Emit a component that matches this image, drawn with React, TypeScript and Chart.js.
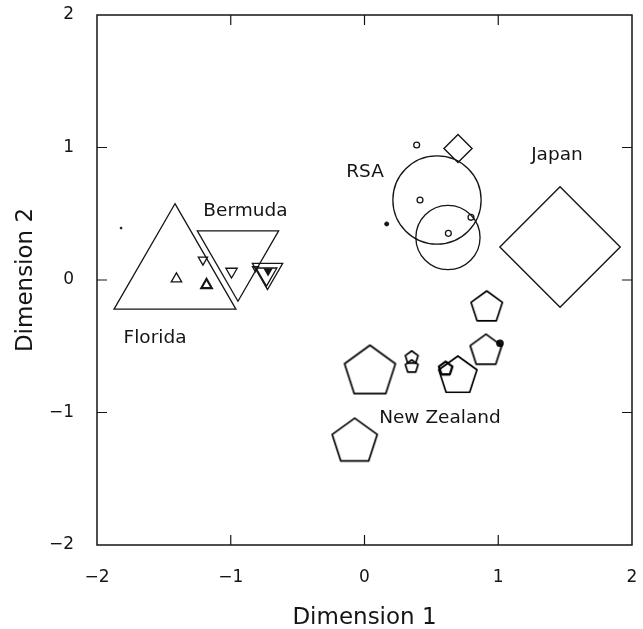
import React, { useEffect, useRef } from 'react';
import { Chart, registerables } from 'chart.js';
Chart.register(...registerables);

// ---- data ----
const axisTicks = [-2, -1, 0, 1, 2];

// Florida (upward triangles): centre and marker size in axis units
const floridaX = [-1.417, -1.406, -1.181];
const floridaY = [0.045, 0.008, -0.038];
const floridaSize = [0.526, 0.045, 0.045];

// Bermuda (downward triangles)
const bermudaX = [-0.946, -1.208, -0.994, -0.725, -0.733, -0.815, -0.721];
const bermudaY = [0.194, 0.153, 0.064, 0.06, 0.045, 0.088, 0.068];
const bermudaSize = [0.351, 0.04, 0.049, 0.131, 0.09, 0.026, 0.026];

// RSA (circles)
const rsaX = [0.542, 0.624, 0.39, 0.415, 0.627, 0.796];
const rsaY = [0.604, 0.321, 1.019, 0.604, 0.352, 0.473];
const rsaSize = [0.33, 0.24, 0.022, 0.022, 0.022, 0.022];

// Japan (diamonds)
const japanX = [0.699, 1.462];
const japanY = [0.992, 0.249];
const japanSize = [0.105, 0.45];

// New Zealand (pentagons)
const nzX = [0.914, 0.908, 0.041, 0.353, 0.353, 0.698, 0.607, -0.073];
const nzY = [-0.207, -0.534, -0.694, -0.586, -0.654, -0.725, -0.669, -1.221];
const nzSize = [0.123, 0.124, 0.2, 0.05, 0.05, 0.15, 0.053, 0.177];

// small unlabeled dots
const dotX = [0.166, 1.013, -1.82];
const dotY = [0.423, -0.478, 0.392];
const dotSize = [0.015, 0.022, 0.007];

// group labels
const groupNames = ['Bermuda', 'Florida', 'RSA', 'Japan', 'New Zealand'];
const groupLabelX = [-0.89, -1.566, 0.004, 1.439, 0.564];
const groupLabelY = [0.52, -0.438, 0.815, 0.94, -1.042];

// ---- styles ----
const INK = '#151515';
const FONT = '"DejaVu Sans", sans-serif';
const boldFlorida = [2];
const boldBermuda = [6];
const filledBermuda = [6];
const boldNZ = [6];
const boldDots = [1];

const pts = (xs: number[], ys: number[]) => xs.map((x, i) => ({ x, y: ys[i] }));

const unitPx = (chart: any, v: number) => {
  const s = chart.scales && chart.scales.x;
  if (!s || !s.width) return v * 133.75;
  return Math.abs(s.getPixelForValue(v) - s.getPixelForValue(0));
};

const radiusFrom = (sizes: number[]) => (ctx: any) => unitPx(ctx.chart, sizes[ctx.dataIndex] ?? 0);
const widthFrom = (bold: number[], normal: number, heavy: number) => (ctx: any) =>
  bold.includes(ctx.dataIndex) ? heavy : normal;

const pentCache = new Map<string, HTMLCanvasElement>();
function pentagon(R: number, lw: number): HTMLCanvasElement {
  const key = R.toFixed(2) + '_' + lw;
  const hit = pentCache.get(key);
  if (hit) return hit;
  const pad = lw + 2;
  const size = Math.ceil(2 * (R + pad));
  const c = document.createElement('canvas');
  c.width = size;
  c.height = size;
  const g = c.getContext('2d')!;
  g.strokeStyle = '#000';
  g.lineWidth = lw;
  g.lineJoin = 'round';
  g.beginPath();
  for (let k = 0; k < 5; k++) {
    const a = -Math.PI / 2 + (k * 2 * Math.PI) / 5;
    const px = size / 2 + R * Math.cos(a);
    const py = size / 2 + R * Math.sin(a);
    if (k === 0) g.moveTo(px, py);
    else g.lineTo(px, py);
  }
  g.closePath();
  g.stroke();
  pentCache.set(key, c);
  return c;
}

const framePlugin = {
  id: 'frame',
  afterDraw(chart: any) {
    const { ctx, chartArea: a, scales } = chart;
    ctx.save();
    ctx.strokeStyle = INK;
    ctx.lineWidth = 1.5;
    ctx.strokeRect(a.left, a.top, a.right - a.left, a.bottom - a.top);
    const len = 10;
    ctx.lineWidth = 1.2;
    ctx.beginPath();
    axisTicks.slice(1, -1).forEach((t) => {
      const px = scales.x.getPixelForValue(t);
      ctx.moveTo(px, a.bottom);
      ctx.lineTo(px, a.bottom - len);
      ctx.moveTo(px, a.top);
      ctx.lineTo(px, a.top + len);
      const py = scales.y.getPixelForValue(t);
      ctx.moveTo(a.left, py);
      ctx.lineTo(a.left + len, py);
      ctx.moveTo(a.right, py);
      ctx.lineTo(a.right - len, py);
    });
    ctx.stroke();
    ctx.restore();
  },
};

const labelPlugin = {
  id: 'groupLabels',
  afterDatasetsDraw(chart: any) {
    const { ctx, scales } = chart;
    ctx.save();
    ctx.fillStyle = INK;
    ctx.font = '18.5px ' + FONT;
    ctx.textAlign = 'center';
    ctx.textBaseline = 'middle';
    groupNames.forEach((t, i) => {
      ctx.fillText(t, scales.x.getPixelForValue(groupLabelX[i]), scales.y.getPixelForValue(groupLabelY[i]));
    });
    ctx.restore();
  },
};

const tickFmt = (v: any) => {
  const n = Number(v);
  return n < 0 ? '\u2212' + Math.abs(n) : String(n);
};

export default function App() {
  const ref = useRef<HTMLCanvasElement | null>(null);
  useEffect(() => {
    if (!ref.current) return;
    const common = {
      pointBorderColor: INK,
      pointBackgroundColor: 'rgba(0,0,0,0)',
      showLine: false,
    };
    const chart = new Chart(ref.current, {
      type: 'scatter',
      data: {
        datasets: [
          {
            ...common,
            label: 'Florida',
            data: pts(floridaX, floridaY),
            pointStyle: 'triangle',
            pointRadius: radiusFrom(floridaSize),
            pointHoverRadius: radiusFrom(floridaSize),
            pointBorderWidth: widthFrom(boldFlorida, 1.3, 2.2),
          },
          {
            ...common,
            label: 'Bermuda',
            data: pts(bermudaX, bermudaY),
            pointStyle: 'triangle',
            rotation: 180,
            pointRadius: radiusFrom(bermudaSize),
            pointHoverRadius: radiusFrom(bermudaSize),
            pointBorderWidth: widthFrom(boldBermuda, 1.3, 2),
            pointBackgroundColor: (ctx: any) => (filledBermuda.includes(ctx.dataIndex) ? INK : 'rgba(0,0,0,0)'),
          },
          {
            ...common,
            label: 'RSA',
            data: pts(rsaX, rsaY),
            pointStyle: 'circle',
            pointRadius: radiusFrom(rsaSize),
            pointHoverRadius: radiusFrom(rsaSize),
            pointBorderWidth: 1.3,
          },
          {
            ...common,
            label: 'Japan',
            data: pts(japanX, japanY),
            pointStyle: 'rectRot',
            pointRadius: radiusFrom(japanSize),
            pointHoverRadius: radiusFrom(japanSize),
            pointBorderWidth: 1.4,
          },
          {
            ...common,
            label: 'New Zealand',
            data: pts(nzX, nzY),
            pointStyle: (ctx: any) =>
              pentagon(unitPx(ctx.chart, nzSize[ctx.dataIndex] ?? 0), boldNZ.includes(ctx.dataIndex) ? 2.3 : 1.7),
            pointRadius: radiusFrom(nzSize),
            pointHoverRadius: radiusFrom(nzSize),
          },
          {
            ...common,
            label: 'dots',
            data: pts(dotX, dotY),
            pointStyle: 'circle',
            pointRadius: radiusFrom(dotSize),
            pointHoverRadius: radiusFrom(dotSize),
            pointBorderWidth: widthFrom(boldDots, 1, 1.8),
            pointBackgroundColor: INK,
          },
        ] as any,
      },
      options: {
        animation: false,
        responsive: false,
        events: [],
        layout: { autoPadding: false, padding: { top: 15, right: 11, left: 0, bottom: 0 } },
        plugins: { legend: { display: false }, tooltip: { enabled: false } },
        scales: {
          x: {
            type: 'linear',
            min: -2,
            max: 2,
            afterBuildTicks: (s: any) => {
              s.ticks = axisTicks.map((v) => ({ value: v }));
            },
            afterFit: (s: any) => {
              s.height = 84;
              s.paddingLeft = 0;
              s.paddingRight = 0;
            },
            grid: { display: false },
            border: { display: false },
            ticks: { padding: 14, color: INK, font: { family: FONT, size: 17 }, callback: tickFmt, maxRotation: 0, autoSkip: false },
            title: { display: true, text: 'Dimension 1', color: INK, font: { family: FONT, size: 23 }, padding: { top: 0, bottom: -3 } },
          },
          y: {
            type: 'linear',
            min: -2,
            max: 2,
            afterBuildTicks: (s: any) => {
              s.ticks = axisTicks.map((v) => ({ value: v }));
            },
            afterFit: (s: any) => {
              s.width = 97;
              s.paddingTop = 0;
              s.paddingBottom = 0;
            },
            grid: { display: false },
            border: { display: false },
            ticks: { padding: 15, color: INK, font: { family: FONT, size: 17 }, callback: tickFmt, autoSkip: false },
            title: { display: true, text: 'Dimension 2', color: INK, font: { family: FONT, size: 23 }, padding: { top: 12, bottom: 0 } },
          },
        },
      } as any,
      plugins: [framePlugin, labelPlugin],
    });
    return () => chart.destroy();
  }, []);
  return (
    <div style={{ position: 'absolute', left: 0, top: 0, width: 643, height: 629, background: '#fff' }}>
      <canvas ref={ref} width={643} height={629} style={{ display: 'block' }} />
    </div>
  );
}
